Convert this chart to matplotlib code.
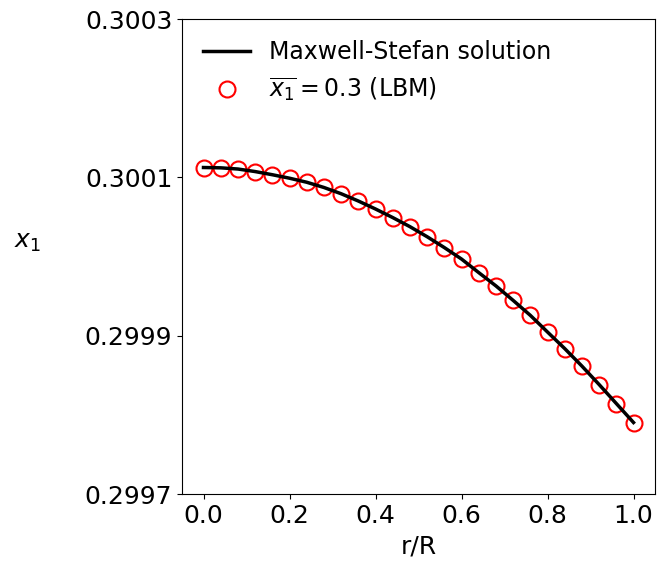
import matplotlib
matplotlib.use("Agg")
import matplotlib.pyplot as plt

r_R = [0.00, 0.04, 0.08, 0.12, 0.16, 0.20, 0.24, 0.28, 0.32, 0.36, 0.40, 0.44, 0.48,
       0.52, 0.56, 0.60, 0.64, 0.68, 0.72, 0.76, 0.80, 0.84, 0.88, 0.92, 0.96, 1.00]
x1_ms = [0.3001124, 0.3001120, 0.3001105, 0.3001073, 0.3001033, 0.3000989, 0.3000938,
         0.3000872, 0.3000793, 0.3000701, 0.3000600, 0.3000492, 0.3000377, 0.3000250,
         0.3000113, 0.2999968, 0.2999797, 0.2999629, 0.2999446, 0.2999257, 0.2999046,
         0.2998837, 0.2998616, 0.2998383, 0.2998143, 0.2997903]
x1_lbm = list(x1_ms)

xticks = [0.0, 0.2, 0.4, 0.6, 0.8, 1.0]
yticks = [0.2997, 0.2999, 0.3001, 0.3003]
ytick_labels = ["0.2997", "0.2999", "0.3001", "0.3003"]

fig = plt.figure(figsize=(6.59, 5.73), dpi=100)
ax = fig.add_axes([182/659, 1 - 494/573, 473/659, 475/573])

ax.plot(r_R, x1_ms, color="black", lw=2.5, label="Maxwell-Stefan solution", zorder=3)
ax.plot(r_R, x1_lbm, linestyle="none", marker="o", markersize=11.5, markerfacecolor="none",
        markeredgecolor="red", markeredgewidth=1.5, label=r"$\overline{x_1} = 0.3$ (LBM)", zorder=2)

ax.set_xlim(-0.05, 1.05)
ax.set_ylim(0.2997, 0.3003)
ax.set_xticks(xticks)
ax.set_yticks(yticks)
ax.set_yticklabels(ytick_labels)
ax.tick_params(labelsize=18)

ax.set_xlabel("r/R", fontsize=18, labelpad=5)
ax.set_ylabel(r"$x_1$", fontsize=18, rotation=0, va="center", ha="center")
ax.yaxis.set_label_coords(-0.326, 0.53)

ax.legend(loc="upper left", frameon=False, fontsize=17, numpoints=1)

fig.savefig("out.png", dpi=100)
